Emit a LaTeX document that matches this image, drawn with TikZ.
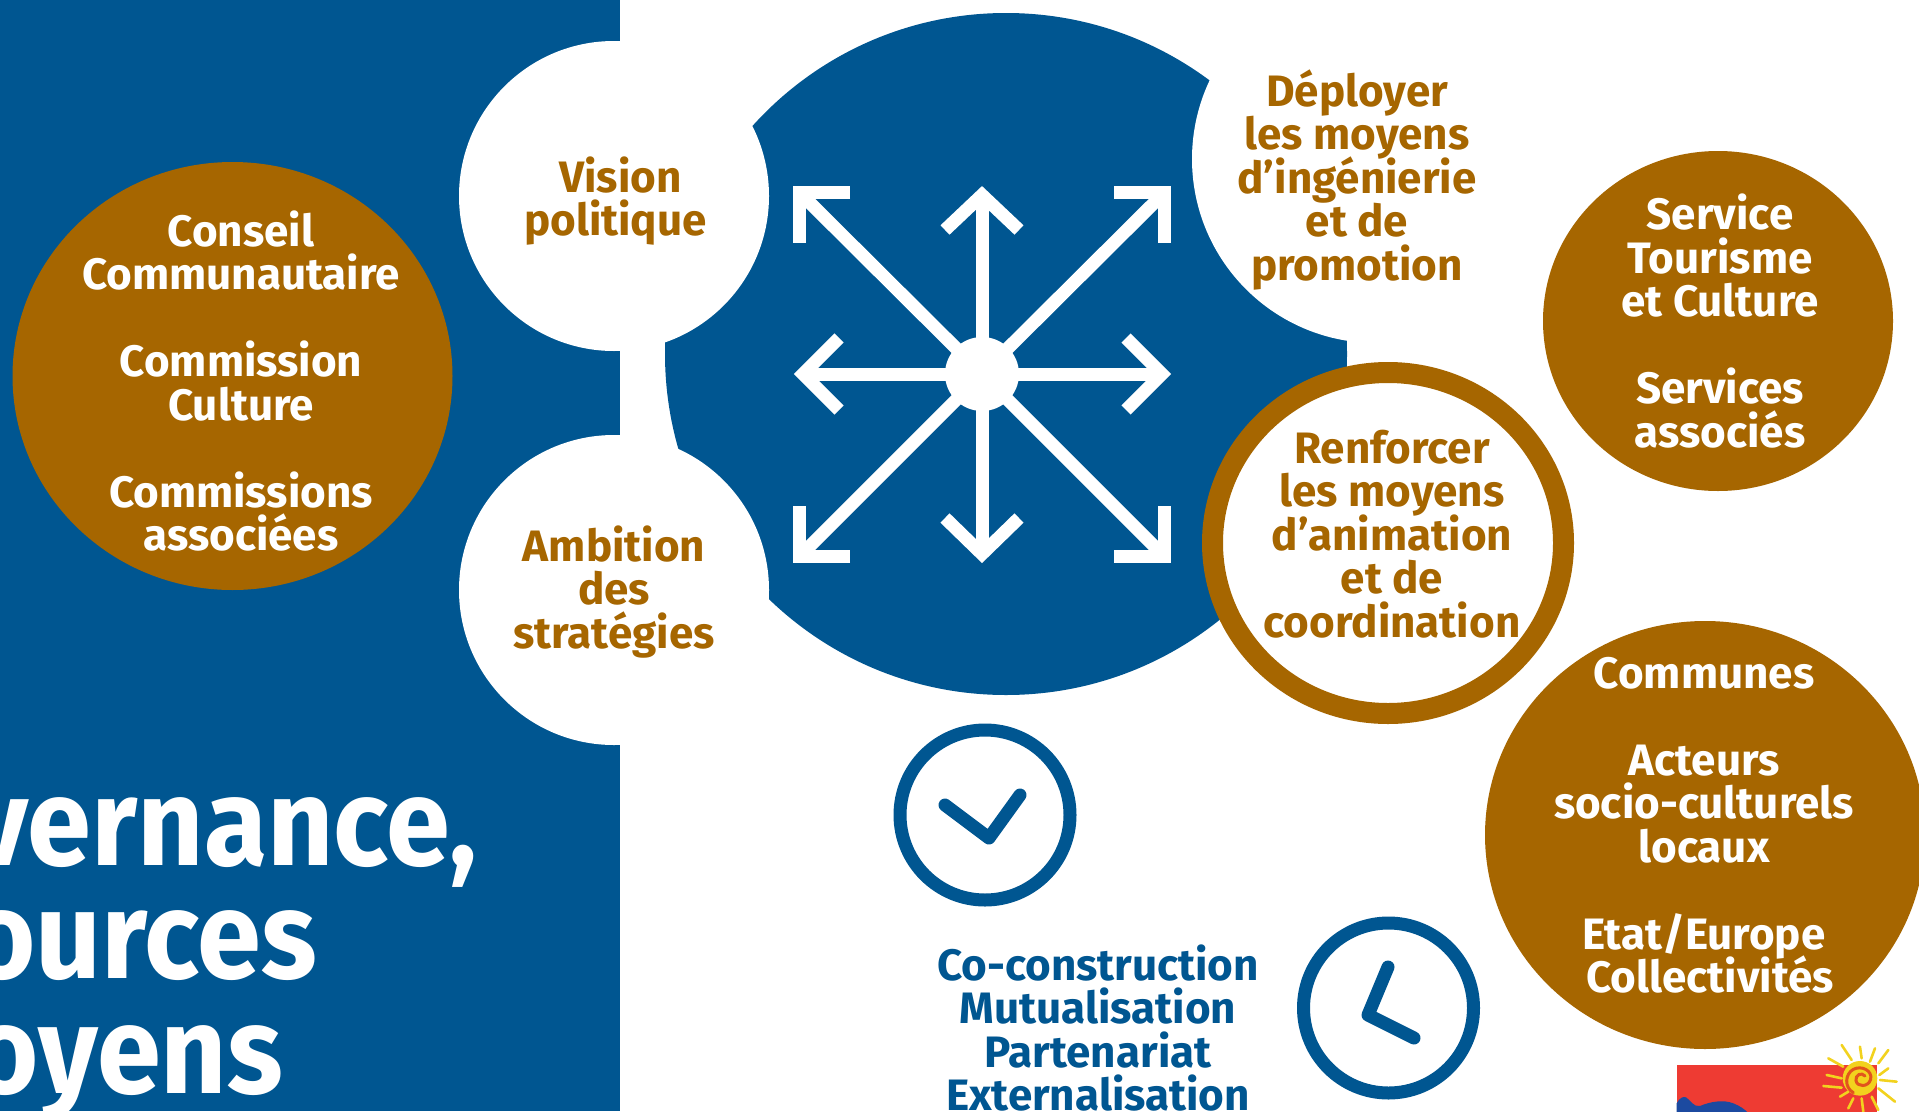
\documentclass[tikz,border=0pt]{standalone}
\usepackage{fontspec}
\setmainfont{Fira Sans}
\newfontfamily\titlefont[FakeStretch=0.93]{Fira Sans}
\lineskiplimit=-50pt
\definecolor{bleu}{HTML}{005691}
\definecolor{brun}{HTML}{A66600}
\definecolor{rouge}{HTML}{EE3B33}
\definecolor{logobleu}{HTML}{1C4AA0}
\definecolor{soleil}{HTML}{F2D21E}
\definecolor{spirale}{HTML}{E2541C}
\tikzset{
  disc/.style={circle,fill=#1,draw=none,inner sep=0pt},
  label/.style={align=center,font=\fontsize{44}{43.5}\selectfont\bfseries,text=#1,inner sep=0pt},
  title/.style={anchor=base east,font=\titlefont\fontsize{124}{124}\selectfont\bfseries,text=white,inner sep=0pt},
  arroww/.style={draw=white,line width=13pt,line join=miter,line cap=butt},
  tick/.style={draw=bleu,line width=13pt,line cap=round,line join=round},
  ray/.style={draw=soleil,line width=#1,line cap=round}
}
\begin{document}
\begin{tikzpicture}[x=1pt,y=-1pt]
\useasboundingbox (0,0) rectangle (1919,1111);
\clip (0,0) rectangle (1919,1111);
\fill[white] (0,0) rectangle (1919,1111);
% panel and central disc
\fill[bleu] (0,0) rectangle (620,1111);
\fill[bleu] (1006,354) circle (341);
\fill[white] (614,196) circle (155);
\fill[white] (614,590) circle (155);
\fill[white] (1376,159) circle (184);
% arrows
\coordinate (ctr) at (982,374);
\coordinate (nw) at (799.5,192.5);
\coordinate (ne) at (1164.5,192.5);
\coordinate (sw) at (799.5,556.5);
\coordinate (se) at (1164.5,556.5);
\coordinate (n) at (982,195);
\coordinate (s) at (982,554);
\coordinate (w) at (803,374);
\coordinate (e) at (1162,374);
\foreach \t in {n,s,w,e,nw,ne,sw,se} \draw[arroww] (ctr) -- (\t);
\draw[arroww] (850,192.5) -- (nw) -- (799.5,243);
\draw[arroww] (1114,192.5) -- (ne) -- (1164.5,243);
\draw[arroww] (850,556.5) -- (sw) -- (799.5,506);
\draw[arroww] (1114,556.5) -- (se) -- (1164.5,506);
\draw[arroww] (945,230) -- (n) -- (1019,230);
\draw[arroww] (945,518) -- (s) -- (1019,518);
\draw[arroww] (839,338) -- (w) -- (839,410);
\draw[arroww] (1126,338) -- (e) -- (1126,410);
\node[disc=white,minimum size=74pt] (hub) at (ctr) {};
% brown discs
\fill[brun] (232.5,376) ellipse [x radius=220,y radius=214];
\fill[brun] (1718,321) ellipse [x radius=175,y radius=170];
\fill[brun] (1705,835) ellipse [x radius=220,y radius=214];
\draw[brun,fill=white,line width=21pt] (1388,543) ellipse [x radius=175.5,y radius=170.5];
% labels
\node[label=white] (gov) at (241,381) {Conseil\\Communautaire\\\mbox{}\\Commission\hspace*{10pt}\\Culture\\\mbox{}\\Commissions\\associées};
\node[label=brun] (vis) at (615.5,201) {Vision\hspace*{-10pt}\\politique};
\node[label=brun] (amb) at (614,592) {Ambition\\des\\stratégies};
\node[label=brun] (dep) at (1357,180) {Déployer\\les moyens\\d’ingénierie\\et de\\promotion};
\node[label=brun] (ren) at (1392,534) {Renforcer\\les moyens\\d’animation\\et de\\coordination};
\node[label=white] (ser) at (1720,321) {Service\\Tourisme\\et Culture\\\mbox{}\\Services\\associés};
\node[label=white] (com) at (1704,825) {Communes\\\mbox{}\\Acteurs\hspace*{8pt}\\socio-culturels\hspace*{8pt}\\locaux\\\mbox{}\\Etat/Europe\hspace*{8pt}\\\hspace*{12pt}Collectivités};
\node[label=bleu] (co) at (1098,1028) {Co-construction\\Mutualisation\\Partenariat\\Externalisation};
% title
\node[title] (t1) at (477,865) {vernance,};
\node[title] (t2) at (317,978) {ources};
\node[title] (t3) at (283,1093) {oyens};
% check and clock
\draw[bleu,line width=13pt] (985,815) circle (85);
\draw[tick] (945,805) -- (989,838) -- (1020,795);
\draw[bleu,line width=13pt] (1388.5,1008) circle (85);
\draw[tick] (1388,967) -- (1368,1015) -- (1414,1038);
% logo
\begin{scope}[shift={(1600,1000)},scale=0.3333]
\fill[rouge] (230,195) rectangle (830,340);
\fill[logobleu] (230,340) -- (230,310) .. controls (238,295) and (248,288) .. (258,292)
  .. controls (272,300) and (280,322) .. (300,318) .. controls (330,305) and (370,298) .. (400,310)
  .. controls (420,318) and (435,328) .. (445,340) -- cycle;
\foreach \a/\b/\c/\d in {725/135/755/180,780/140/785/175,825/145/810/185,865/150/835/190,865/205/838/225,890/245/840/240,885/305/835/265,835/330/815/290,790/335/785/295,745/325/760/295,720/290/745/275,670/258/725/263,680/225/725/235,685/175/730/200}
  \draw[ray=2.6pt] (\a,\b) -- (\c,\d);
\fill[soleil] (780,235) circle (52);
\draw[spirale,line width=3pt,line cap=round] (795,228) .. controls (785,215) and (765,225) .. (768,242)
  .. controls (772,262) and (805,262) .. (812,238) .. controls (818,212) and (785,195) .. (760,208)
  .. controls (735,222) and (732,262) .. (760,278);
\end{scope}
\end{tikzpicture}
\end{document}
